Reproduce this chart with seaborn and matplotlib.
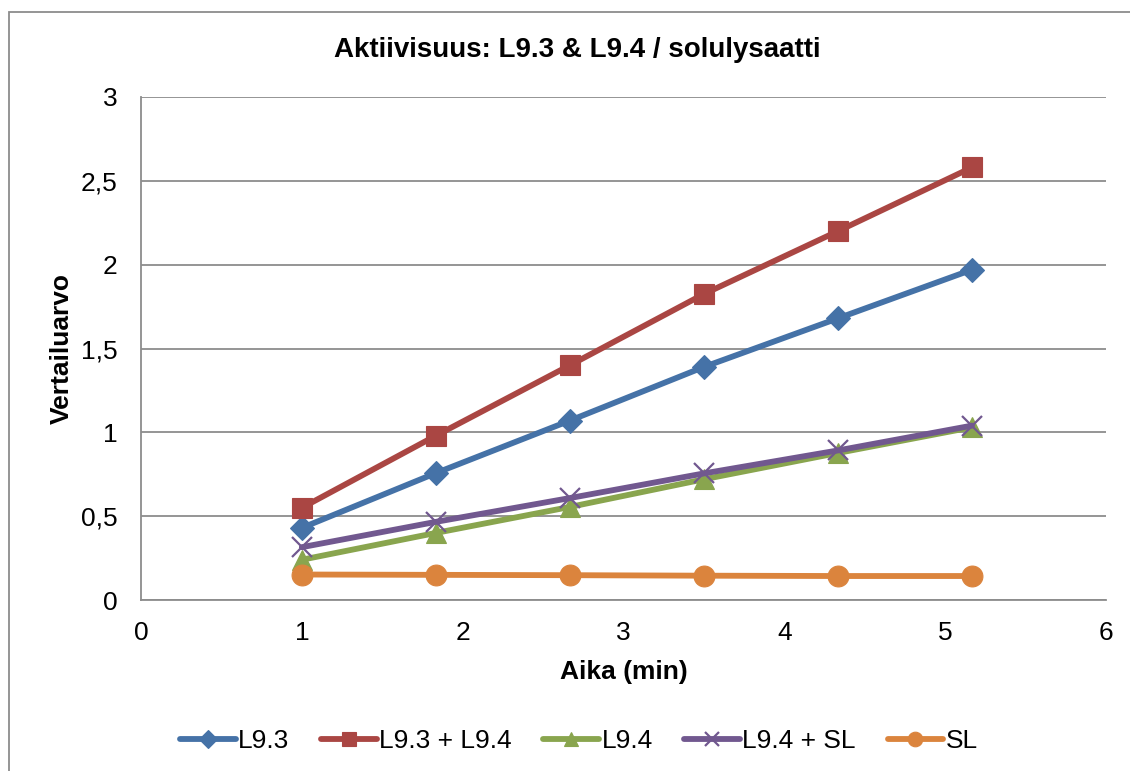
import matplotlib
matplotlib.use("Agg")
import matplotlib.pyplot as plt
import matplotlib.patches as mpatches
from matplotlib.ticker import FuncFormatter, MultipleLocator
import seaborn as sns
import pandas as pd

sns.set_theme(style="white")
plt.rcParams['font.family'] = ['Liberation Sans', 'DejaVu Sans']
plt.rcParams['text.color'] = 'black'
plt.rcParams['axes.labelcolor'] = 'black'

time_min = [1.0, 1.8333, 2.6667, 3.5, 4.3333, 5.1667]
series_names = ["L9.3", "L9.3 + L9.4", "L9.4", "L9.4 + SL", "SL"]
l93 = [0.43, 0.757, 1.07, 1.39, 1.68, 1.97]
l93_l94 = [0.55, 0.98, 1.40, 1.825, 2.20, 2.58]
l94 = [0.24, 0.40, 0.555, 0.72, 0.877, 1.03]
l94_sl = [0.315, 0.466, 0.608, 0.755, 0.892, 1.04]
sl = [0.152, 0.15, 0.148, 0.145, 0.143, 0.143]
values = [l93, l93_l94, l94, l94_sl, sl]

colors = ["#4572A7", "#AA4643", "#89A54E", "#71588F", "#DB843D"]
markers = ["D", "s", "^", "x", "o"]
msizes = [12.5, 15, 15, 14, 15]

rows = []
for name, vals in zip(series_names, values):
    for t, v in zip(time_min, vals):
        rows.append({"Aika": t, "Arvo": v, "Sarja": name})
df = pd.DataFrame(rows)

fig = plt.figure(figsize=(11.3, 7.71), dpi=100)
ax = fig.add_axes([141/1130, 1-600/771, (1106-141)/1130, (600-97)/771])

for name, c, m, ms in zip(series_names, colors, markers, msizes):
    sub = df[df["Sarja"] == name]
    sns.lineplot(data=sub, x="Aika", y="Arvo", ax=ax, color=c, marker=m,
                 markersize=ms, linewidth=4.2, markeredgecolor=c,
                 markeredgewidth=0.8 if m != "x" else 1.6, label=name,
                 legend=False, zorder=3)

ax.set_xlim(0, 6)
ax.set_ylim(0, 3)
ax.xaxis.set_major_locator(MultipleLocator(1))
ax.yaxis.set_major_locator(MultipleLocator(0.5))
ax.yaxis.set_major_formatter(FuncFormatter(lambda v, p: ("%g" % v).replace(".", ",")))
ax.grid(axis="y", color="#8c8c8c", linewidth=1.3)
ax.grid(axis="x", visible=False)
for s in ["top", "right"]:
    ax.spines[s].set_visible(False)
for s in ["left", "bottom"]:
    ax.spines[s].set_color("#8c8c8c")
    ax.spines[s].set_linewidth(1.3)
ax.tick_params(axis="both", direction="out", length=6, width=1.3, color="#8c8c8c",
               labelsize=19, labelcolor="black")
ax.tick_params(axis="x", pad=9)
ax.tick_params(axis="y", pad=11)
ax.set_axisbelow(True)

ax.set_xlabel("Aika (min)", fontsize=19, fontweight="bold", labelpad=11)
ax.set_ylabel("Vertailuarvo", fontsize=19, fontweight="bold", labelpad=5)
fig.text(577/1130, 1-50/771, "Aktiivisuus: L9.3 & L9.4 / solulysaatti",
         ha="center", va="center", fontsize=20, fontweight="bold", color="black")

handles, labels = ax.get_legend_handles_labels()
fig.legend(handles, labels, loc="center", bbox_to_anchor=(579/1130, 1-741/771),
           ncol=5, frameon=False, fontsize=19, handlelength=2.1, handletextpad=0.1,
           columnspacing=1.2, markerscale=0.7)

fig.patches.append(mpatches.Rectangle((9/1130, -0.05), 1.2, 1-12/771+0.05,
                                      transform=fig.transFigure, fill=False,
                                      edgecolor="#8c8c8c", linewidth=1.3))

fig.savefig("out.png", dpi=100)
